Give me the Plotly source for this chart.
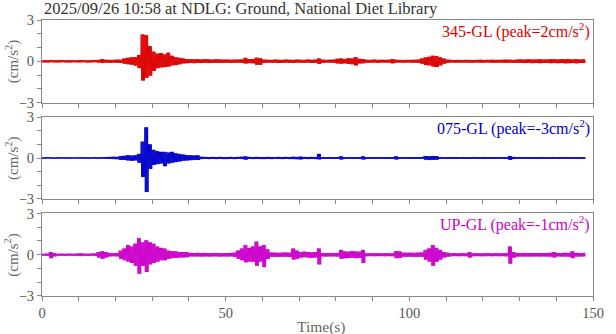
import numpy as np
import plotly.graph_objects as go

# one sample per second: upper / lower swing of the record
seconds = np.arange(148)

ns_hi = [0.08, 0.07, 0.09, 0.07, 0.08, 0.09, 0.07, 0.08, 0.08, 0.07,
         0.09, 0.08, 0.07, 0.08, 0.09, 0.10, 0.16, 0.11, 0.10, 0.10,
         0.12, 0.11, 0.20, 0.25, 0.30, 0.30, 0.45, 1.95, 1.90, 1.10,
         0.70, 0.55, 0.60, 0.50, 0.62, 0.40, 0.30, 0.25, 0.20, 0.16,
         0.15, 0.14, 0.15, 0.13, 0.15, 0.14, 0.12, 0.14, 0.13, 0.12,
         0.12, 0.11, 0.12, 0.12, 0.13, 0.25, 0.15, 0.16, 0.26, 0.22,
         0.12, 0.11, 0.10, 0.12, 0.11, 0.10, 0.12, 0.11, 0.10, 0.12,
         0.11, 0.10, 0.12, 0.11, 0.12, 0.20, 0.12, 0.10, 0.11, 0.12,
         0.18, 0.20, 0.16, 0.22, 0.20, 0.30, 0.18, 0.16, 0.11, 0.10,
         0.12, 0.10, 0.11, 0.10, 0.11, 0.16, 0.11, 0.10, 0.09, 0.10,
         0.10, 0.11, 0.12, 0.20, 0.28, 0.32, 0.40, 0.38, 0.28, 0.20,
         0.12, 0.10, 0.09, 0.10, 0.09, 0.10, 0.10, 0.09, 0.10, 0.11,
         0.09, 0.10, 0.11, 0.10, 0.10, 0.11, 0.12, 0.11, 0.10, 0.12,
         0.13, 0.12, 0.14, 0.12, 0.13, 0.15, 0.12, 0.13, 0.15, 0.14,
         0.13, 0.15, 0.14, 0.16, 0.13, 0.14, 0.13, 0.14]
ns_lo = [-0.08, -0.09, -0.07, -0.08, -0.09, -0.07, -0.08, -0.09, -0.07, -0.08,
         -0.08, -0.07, -0.09, -0.08, -0.07, -0.09, -0.13, -0.10, -0.11, -0.10,
         -0.11, -0.12, -0.18, -0.22, -0.25, -0.32, -0.50, -1.40, -1.20, -1.05,
         -0.70, -0.50, -0.45, -0.42, -0.38, -0.30, -0.28, -0.22, -0.16, -0.14,
         -0.13, -0.14, -0.12, -0.13, -0.12, -0.13, -0.12, -0.11, -0.12, -0.11,
         -0.11, -0.12, -0.10, -0.11, -0.12, -0.16, -0.14, -0.15, -0.25, -0.26,
         -0.11, -0.10, -0.11, -0.10, -0.12, -0.11, -0.10, -0.11, -0.12, -0.10,
         -0.10, -0.11, -0.10, -0.12, -0.11, -0.20, -0.11, -0.10, -0.10, -0.11,
         -0.16, -0.18, -0.15, -0.20, -0.22, -0.30, -0.16, -0.15, -0.10, -0.10,
         -0.10, -0.11, -0.09, -0.10, -0.10, -0.15, -0.10, -0.09, -0.10, -0.09,
         -0.10, -0.10, -0.12, -0.18, -0.28, -0.30, -0.38, -0.42, -0.30, -0.18,
         -0.11, -0.09, -0.10, -0.09, -0.10, -0.09, -0.10, -0.10, -0.09, -0.10,
         -0.10, -0.09, -0.10, -0.11, -0.10, -0.10, -0.11, -0.10, -0.11, -0.11,
         -0.12, -0.13, -0.12, -0.14, -0.12, -0.14, -0.13, -0.12, -0.14, -0.13,
         -0.14, -0.13, -0.15, -0.14, -0.13, -0.15, -0.13, -0.13]

ew_hi = [0.05, 0.06, 0.05, 0.04, 0.05, 0.06, 0.05, 0.05, 0.04, 0.06,
         0.05, 0.06, 0.05, 0.05, 0.06, 0.05, 0.06, 0.07, 0.08, 0.09,
         0.08, 0.14, 0.16, 0.20, 0.18, 0.20, 0.30, 1.20, 2.25, 1.00,
         0.60, 0.50, 0.45, 0.45, 0.40, 0.45, 0.35, 0.30, 0.25, 0.22,
         0.20, 0.18, 0.20, 0.09, 0.08, 0.07, 0.08, 0.07, 0.08, 0.07,
         0.07, 0.08, 0.07, 0.08, 0.09, 0.12, 0.08, 0.07, 0.08, 0.07,
         0.07, 0.08, 0.07, 0.06, 0.08, 0.07, 0.08, 0.07, 0.09, 0.08,
         0.10, 0.08, 0.07, 0.08, 0.07, 0.30, 0.07, 0.06, 0.07, 0.06,
         0.07, 0.12, 0.06, 0.07, 0.06, 0.07, 0.06, 0.12, 0.06, 0.07,
         0.06, 0.06, 0.07, 0.06, 0.07, 0.06, 0.12, 0.06, 0.07, 0.06,
         0.06, 0.07, 0.06, 0.07, 0.15, 0.12, 0.15, 0.14, 0.07, 0.06,
         0.06, 0.07, 0.06, 0.06, 0.07, 0.06, 0.06, 0.07, 0.06, 0.06,
         0.07, 0.06, 0.06, 0.07, 0.06, 0.07, 0.06, 0.15, 0.08, 0.06,
         0.06, 0.07, 0.06, 0.06, 0.07, 0.06, 0.07, 0.06, 0.06, 0.07,
         0.06, 0.07, 0.06, 0.07, 0.06, 0.06, 0.07, 0.06]
ew_lo = [-0.05, -0.04, -0.05, -0.06, -0.05, -0.04, -0.05, -0.06, -0.05, -0.04,
         -0.05, -0.05, -0.06, -0.05, -0.05, -0.06, -0.05, -0.06, -0.07, -0.08,
         -0.09, -0.13, -0.15, -0.18, -0.20, -0.18, -0.35, -1.40, -2.50, -0.80,
         -0.50, -0.45, -0.40, -0.60, -0.40, -0.35, -0.30, -0.25, -0.20, -0.18,
         -0.16, -0.15, -0.14, -0.08, -0.07, -0.08, -0.07, -0.08, -0.07, -0.08,
         -0.08, -0.07, -0.08, -0.07, -0.08, -0.12, -0.07, -0.08, -0.07, -0.08,
         -0.08, -0.07, -0.08, -0.07, -0.07, -0.08, -0.07, -0.08, -0.08, -0.09,
         -0.10, -0.07, -0.08, -0.07, -0.08, -0.10, -0.06, -0.07, -0.06, -0.07,
         -0.06, -0.11, -0.07, -0.06, -0.07, -0.06, -0.07, -0.11, -0.07, -0.06,
         -0.07, -0.06, -0.06, -0.07, -0.06, -0.07, -0.11, -0.07, -0.06, -0.07,
         -0.07, -0.06, -0.07, -0.06, -0.12, -0.15, -0.13, -0.12, -0.06, -0.07,
         -0.07, -0.06, -0.07, -0.07, -0.06, -0.07, -0.07, -0.06, -0.07, -0.07,
         -0.06, -0.07, -0.07, -0.06, -0.07, -0.06, -0.07, -0.14, -0.07, -0.07,
         -0.07, -0.06, -0.07, -0.07, -0.06, -0.07, -0.06, -0.07, -0.07, -0.06,
         -0.07, -0.06, -0.07, -0.06, -0.07, -0.07, -0.06, -0.07]

ud_hi = [0.07, 0.08, 0.20, 0.12, 0.07, 0.08, 0.07, 0.08, 0.07, 0.08,
         0.10, 0.08, 0.07, 0.08, 0.09, 0.20, 0.25, 0.20, 0.12, 0.11,
         0.12, 0.30, 0.45, 0.70, 0.60, 0.80, 1.20, 0.90, 1.05, 0.90,
         0.80, 0.60, 0.50, 0.45, 0.30, 0.25, 0.25, 0.20, 0.20, 0.20,
         0.13, 0.12, 0.14, 0.12, 0.13, 0.12, 0.12, 0.13, 0.11, 0.12,
         0.12, 0.13, 0.15, 0.30, 0.45, 0.70, 0.50, 0.60, 0.95, 0.60,
         0.70, 0.40, 0.16, 0.15, 0.14, 0.15, 0.16, 0.15, 0.45, 0.30,
         0.20, 0.22, 0.20, 0.18, 0.20, 0.45, 0.13, 0.12, 0.12, 0.13,
         0.12, 0.35, 0.25, 0.22, 0.25, 0.24, 0.22, 0.35, 0.10, 0.11,
         0.10, 0.11, 0.10, 0.10, 0.11, 0.10, 0.25, 0.24, 0.15, 0.14,
         0.15, 0.14, 0.15, 0.16, 0.35, 0.45, 0.70, 0.50, 0.35, 0.20,
         0.15, 0.10, 0.11, 0.10, 0.11, 0.10, 0.20, 0.10, 0.11, 0.10,
         0.10, 0.11, 0.10, 0.11, 0.10, 0.11, 0.12, 0.60, 0.20, 0.12,
         0.12, 0.13, 0.12, 0.12, 0.13, 0.12, 0.13, 0.12, 0.14, 0.20,
         0.13, 0.12, 0.14, 0.13, 0.25, 0.14, 0.12, 0.13]
ud_lo = [-0.07, -0.08, -0.25, -0.12, -0.08, -0.07, -0.08, -0.07, -0.08, -0.07,
         -0.10, -0.07, -0.08, -0.07, -0.08, -0.20, -0.30, -0.20, -0.12, -0.11,
         -0.12, -0.30, -0.40, -0.50, -0.60, -0.80, -1.38, -0.80, -1.26, -0.70,
         -0.60, -0.50, -0.40, -0.40, -0.30, -0.25, -0.22, -0.20, -0.20, -0.18,
         -0.12, -0.13, -0.12, -0.13, -0.12, -0.13, -0.12, -0.12, -0.13, -0.12,
         -0.13, -0.12, -0.15, -0.30, -0.40, -0.55, -0.50, -0.50, -0.80, -0.50,
         -0.90, -0.30, -0.15, -0.16, -0.15, -0.14, -0.15, -0.16, -0.35, -0.30,
         -0.20, -0.18, -0.20, -0.22, -0.20, -0.70, -0.12, -0.13, -0.12, -0.12,
         -0.13, -0.30, -0.25, -0.24, -0.22, -0.25, -0.24, -0.60, -0.11, -0.10,
         -0.11, -0.10, -0.10, -0.11, -0.10, -0.11, -0.25, -0.22, -0.14, -0.15,
         -0.14, -0.15, -0.16, -0.15, -0.35, -0.50, -0.80, -0.50, -0.35, -0.20,
         -0.14, -0.11, -0.10, -0.11, -0.10, -0.11, -0.20, -0.11, -0.10, -0.11,
         -0.11, -0.10, -0.11, -0.10, -0.11, -0.10, -0.12, -0.65, -0.20, -0.13,
         -0.13, -0.12, -0.13, -0.13, -0.12, -0.13, -0.12, -0.13, -0.13, -0.20,
         -0.12, -0.13, -0.13, -0.14, -0.25, -0.13, -0.13, -0.12]

components = ["345-GL", "075-GL", "UP-GL"]
peaks = [2, -3, -1]
colors = ["#dd0000", "#0000cc", "#cc00cc"]
series = [(ns_hi, ns_lo), (ew_hi, ew_lo), (ud_hi, ud_lo)]

title = "2025/09/26 10:58 at NDLG: Ground, National Diet Library"
font = "Liberation Serif, Times New Roman, serif"
gray = "#888888"

domains = [[0.701, 1.0], [0.352, 0.648], [0.0, 0.299]]

# each second is drawn as a dense swing between its upper and lower value
steps = np.arange(8) / 8.0

fig = go.Figure()
for i, (name, (hi, lo)) in enumerate(zip(components, series)):
    n = i + 1
    x = (seconds[:, None] + steps[None, :]).ravel()
    y = np.column_stack([hi, lo, hi, lo, hi, lo, hi, lo]).ravel()
    fig.add_trace(go.Scatter(x=x, y=y, mode="lines", line=dict(color=colors[i], width=0.9),
                             showlegend=False, hoverinfo="skip", xaxis=f"x{n}", yaxis=f"y{n}"))

    xa = dict(domain=[0, 1], range=[0, 150], anchor=f"y{n}", tickvals=[0, 50, 100, 150],
              showticklabels=(n == 3), ticks="outside", ticklen=4, tickcolor=gray,
              minor=dict(dtick=10, tick0=0, ticks="outside", ticklen=4, tickcolor=gray),
              showline=True, linecolor=gray, mirror=True, showgrid=False, zeroline=False)
    ya = dict(domain=domains[i], range=[-3, 3], anchor=f"x{n}", tickvals=[-3, 0, 3],
              ticks="outside", ticklen=4, tickcolor=gray,
              minor=dict(dtick=1, tick0=0, ticks="outside", ticklen=4, tickcolor=gray),
              showline=True, linecolor=gray, mirror=True, showgrid=False, zeroline=False)
    fig.layout[f"xaxis{'' if n == 1 else n}"] = xa
    fig.layout[f"yaxis{'' if n == 1 else n}"] = ya

    fig.add_annotation(text=f"{name} (peak={peaks[i]}cm/s<sup>2</sup>)", xref="paper",
                       yref="paper", x=1, y=domains[i][1], xanchor="right", yanchor="top",
                       xshift=-1, yshift=2, showarrow=False,
                       font=dict(color=colors[i], size=16))
    fig.add_annotation(text="(cm/s<sup>2</sup>)", textangle=-90, xref="paper", yref="paper",
                       x=0, y=sum(domains[i]) / 2, xanchor="center", yanchor="middle",
                       xshift=-30, showarrow=False, font=dict(color="#666666", size=15))

fig.add_annotation(text=title, xref="paper", yref="paper", x=0, y=1, xanchor="left",
                   yanchor="bottom", yshift=0, showarrow=False,
                   font=dict(color="#333333", size=16.5))
fig.add_annotation(text="Time(s)", xref="paper", yref="paper", x=0.507, y=0, xanchor="center",
                   yanchor="top", yshift=-20, showarrow=False,
                   font=dict(color="#666666", size=15.5))

fig.update_layout(width=616, height=334, autosize=False,
                  margin=dict(l=42, r=12, t=15, b=38),
                  plot_bgcolor="white", paper_bgcolor="white",
                  font=dict(family=font, size=14.5, color="#555555"))

# the page puts an 8px body margin round the plot; drop it so the figure fills the window
fig.write_html("out.html", config={"displayModeBar": False},
               post_script="document.body.style.margin = '0';")
